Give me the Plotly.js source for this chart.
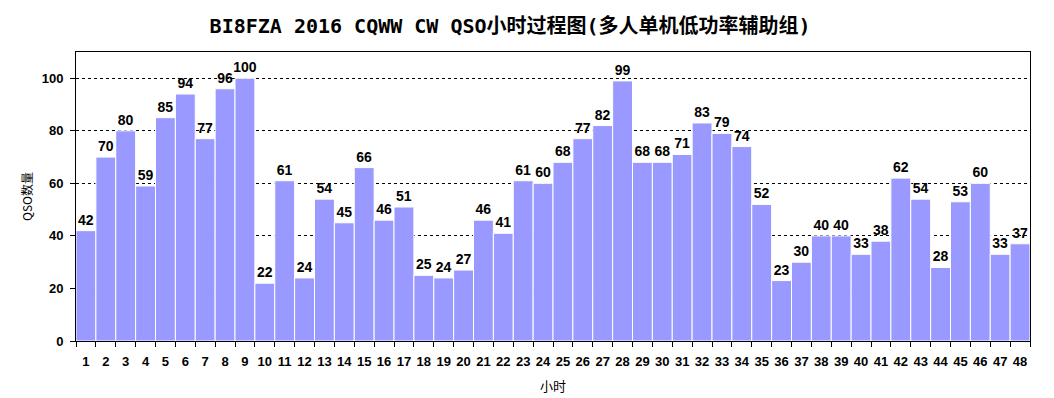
<!DOCTYPE html>
<html>
<head>
<meta charset="utf-8">
<script src="https://cdn.plot.ly/plotly-3.0.1.min.js"></script>
<style>html,body{margin:0;padding:0;background:#fff;}#chart{width:1054px;height:398px;}</style>
</head>
<body>
<div id="chart"></div>
<script>
const hours = [];
for (let i = 1; i <= 48; i++) hours.push(i);
const qsoCounts = [42,70,80,59,85,94,77,96,100,22,61,24,54,45,66,46,51,25,24,27,46,41,61,60,68,77,82,99,68,68,71,83,79,74,52,23,30,40,40,33,38,62,54,28,53,60,33,37];
const yTicks = [0,20,40,60,80,100];
const titleText = 'BI8FZA 2016 CQWW CW QSO小时过程图(多人单机低功率辅助组)';
const xTitle = '小时';
const yTitle = 'QSO数量';

const boundaries = [];
for (let i = 0; i <= hours.length; i++) boundaries.push(i + 0.5);

const trace = {
  type: 'bar',
  x: hours,
  y: qsoCounts,
  text: qsoCounts.map(String),
  textposition: 'outside',
  constraintext: 'none',
  cliponaxis: false,
  textfont: {family: 'Liberation Sans, Arial, sans-serif', size: 14, color: '#000', weight: 'bold'},
  marker: {color: '#9999FF', line: {color: '#ffffff', width: 1}},
  hoverinfo: 'x+y'
};

const layout = {
  width: 1054, height: 398,
  margin: {l: 76, r: 24, t: 52, b: 57},
  paper_bgcolor: '#fff', plot_bgcolor: '#fff',
  showlegend: false,
  bargap: 0,
  title: {
    text: titleText,
    xref: 'container', x: 0.484, xanchor: 'center',
    yref: 'container', y: 0.935, yanchor: 'middle',
    font: {family: 'DejaVu Sans Mono, Noto Sans CJK SC, monospace', size: 20, color: '#000', weight: 'bold'}
  },
  xaxis: {
    range: [0.5, 48.5],
    tickvals: hours, ticktext: hours.map(String),
    ticks: '', ticklen: 0,
    ticklabelstandoff: 8,
    tickfont: {family: 'Liberation Sans, Arial, sans-serif', size: 13, color: '#000', weight: 'bold'},
    minor: {tickvals: boundaries, ticks: 'outside', ticklen: 5, tickcolor: '#000', tickwidth: 1, showgrid: false},
    showline: true, linecolor: '#000', linewidth: 1, mirror: true,
    showgrid: false, zeroline: false,
    title: {text: xTitle, standoff: 14, font: {family: 'Noto Sans CJK SC, sans-serif', size: 13, color: '#000'}},
    fixedrange: true
  },
  yaxis: {
    range: [0, 110],
    tickvals: yTicks,
    ticks: 'outside', ticklen: 5, tickcolor: '#000',
    ticklabelstandoff: 4,
    tickfont: {family: 'Liberation Sans, Arial, sans-serif', size: 13, color: '#000', weight: 'bold'},
    showline: true, linecolor: '#000', linewidth: 1, mirror: true,
    showgrid: true, gridcolor: '#000', griddash: 'dot', gridwidth: 1,
    zeroline: false,
    title: {text: yTitle, standoff: 6, font: {family: 'Noto Sans CJK SC, sans-serif', size: 12, color: '#000'}},
    fixedrange: true
  }
};

Plotly.newPlot('chart', [trace], layout, {displayModeBar: false, staticPlot: true});
</script>
</body>
</html>
